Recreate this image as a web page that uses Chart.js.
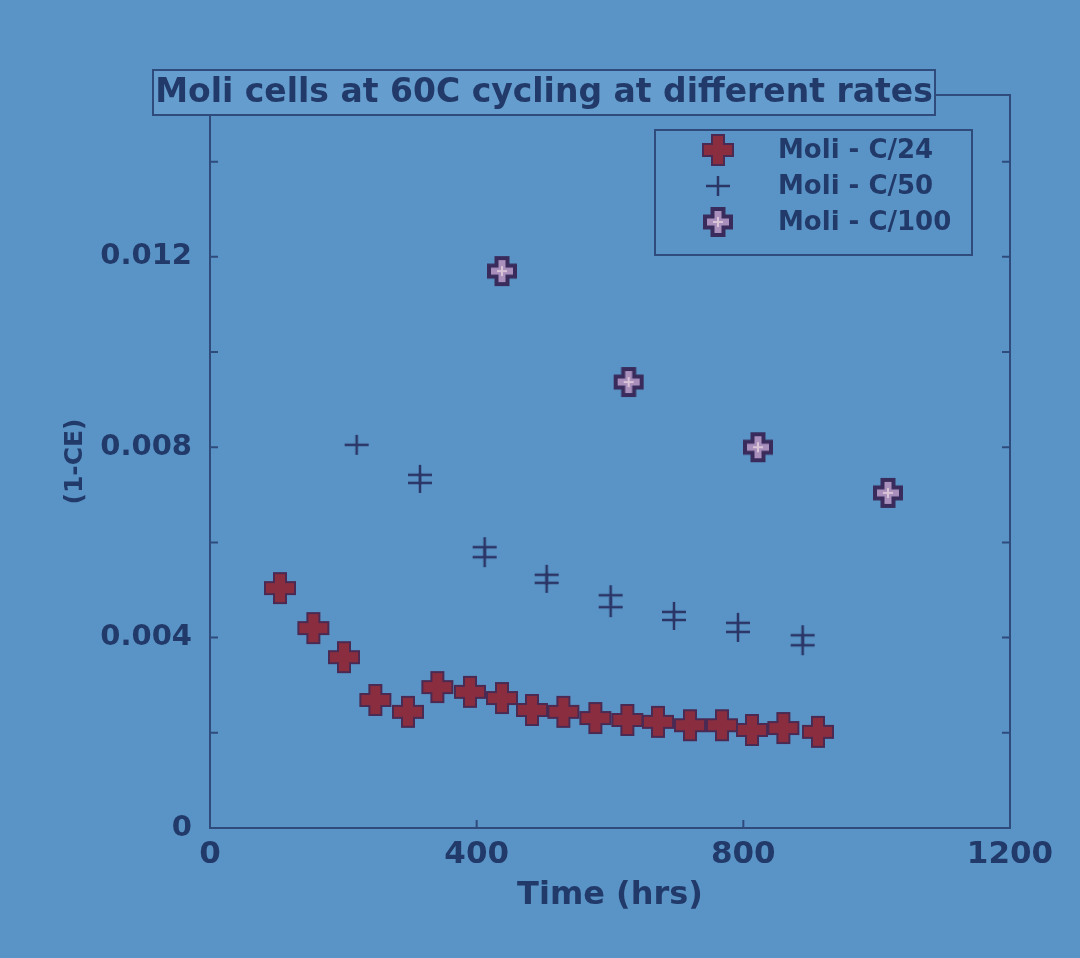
<!DOCTYPE html>
<html lang="en">
<head>
    <meta charset="UTF-8">
    <title>Moli cells at 60C cycling at different rates</title>
    <script src="https://cdn.jsdelivr.net/npm/chart.js"></script>
    <style>
        body {
            margin: 0;
            background-color: #5a94c7;
        }
        canvas {
            display: block;
        }
    </style>
</head>
<body>
    <canvas id="ceChart" width="1080" height="958"></canvas>

    <script>
        // Series
        const c24Time = [105, 155, 201, 248, 297, 341, 390, 438, 483, 530, 578, 626, 672, 720, 768, 813, 860, 912];
        const c24Value = [0.00504, 0.00420, 0.00359, 0.00269, 0.00244, 0.00296, 0.00286, 0.00273, 0.00248,
                          0.00244, 0.00231, 0.00227, 0.00223, 0.00216, 0.00216, 0.00206, 0.00210, 0.00202];

        // C/50 has two cells, so most times appear twice
        const c50Time = [220, 315, 315, 412, 412, 505, 505, 601, 601, 696, 696, 792, 792, 889, 889];
        const c50Value = [0.00805, 0.00742, 0.00725, 0.00590, 0.00569, 0.00532, 0.00515, 0.00489,
                          0.00464, 0.00454, 0.00437, 0.00431, 0.00412, 0.00405, 0.00384];

        const c100Time = [438, 628, 822, 1017];
        const c100Value = [0.01170, 0.00937, 0.00800, 0.00704];

        const seriesNames = ["Moli - C/24", "Moli - C/50", "Moli - C/100"];
        const xTicks = [0, 400, 800, 1200];
        const xTickLabels = ["0", "400", "800", "1200"];
        const yTicks = [0, 0.004, 0.008, 0.012];
        const yTickLabels = ["0", "0.004", "0.008", "0.012"];

        const ink = "#223a69";
        const frameColor = "#2e4b7c";
        const fontFamily = "'DejaVu Sans', sans-serif";

        function toPoints(xs, ys) {
            return xs.map((x, i) => ({ x: x, y: ys[i] }));
        }

        function plusPath(ctx, cx, cy, size, arm) {
            const h = size / 2, a = arm / 2;
            ctx.beginPath();
            ctx.moveTo(cx - a, cy - h);
            ctx.lineTo(cx + a, cy - h);
            ctx.lineTo(cx + a, cy - a);
            ctx.lineTo(cx + h, cy - a);
            ctx.lineTo(cx + h, cy + a);
            ctx.lineTo(cx + a, cy + a);
            ctx.lineTo(cx + a, cy + h);
            ctx.lineTo(cx - a, cy + h);
            ctx.lineTo(cx - a, cy + a);
            ctx.lineTo(cx - h, cy + a);
            ctx.lineTo(cx - h, cy - a);
            ctx.lineTo(cx - a, cy - a);
            ctx.closePath();
        }

        // marker images used as pointStyle
        function makeMarker(kind) {
            const c = document.createElement("canvas");
            c.width = 36;
            c.height = 36;
            const g = c.getContext("2d");
            if (kind === "thick") {
                plusPath(g, 18, 18, 30, 12);
                g.fillStyle = "#8a2d3f";
                g.fill();
                g.lineWidth = 2;
                g.strokeStyle = "#4a2a52";
                g.stroke();
            } else if (kind === "thin") {
                g.beginPath();
                g.moveTo(6, 18); g.lineTo(30, 18);
                g.moveTo(18, 8); g.lineTo(18, 28);
                g.lineWidth = 2.5;
                g.strokeStyle = "#2b3566";
                g.stroke();
            } else {
                plusPath(g, 18, 18, 26, 11);
                g.fillStyle = "#a98fbc";
                g.fill();
                g.lineWidth = 4;
                g.strokeStyle = "#392c5c";
                g.stroke();
                g.beginPath();
                g.moveTo(13, 18); g.lineTo(23, 18);
                g.moveTo(18, 13); g.lineTo(18, 23);
                g.lineWidth = 2;
                g.strokeStyle = "#d9c3d6";
                g.stroke();
            }
            return c;
        }

        const markers = [makeMarker("thick"), makeMarker("thin"), makeMarker("hollow")];

        // frame box with inward ticks, title box and legend box
        const slideDecor = {
            id: "slideDecor",
            beforeDatasetsDraw(chart) {
                const { ctx, chartArea: a, scales } = chart;
                ctx.save();
                ctx.strokeStyle = frameColor;
                ctx.lineWidth = 2;
                ctx.strokeRect(a.left, a.top, a.right - a.left, a.bottom - a.top);
                ctx.beginPath();
                for (let i = 0; i < yTicks.length; i++) {
                    const vals = [yTicks[i], yTicks[i] + 0.002];
                    vals.forEach(v => {
                        if (v > scales.y.max) return;
                        const py = scales.y.getPixelForValue(v);
                        ctx.moveTo(a.left, py); ctx.lineTo(a.left + 8, py);
                        ctx.moveTo(a.right, py); ctx.lineTo(a.right - 8, py);
                    });
                }
                xTicks.forEach(v => {
                    const px = scales.x.getPixelForValue(v);
                    ctx.moveTo(px, a.bottom); ctx.lineTo(px, a.bottom - 8);
                    ctx.moveTo(px, a.top); ctx.lineTo(px, a.top + 8);
                });
                ctx.stroke();
                ctx.restore();
            },
            afterDraw(chart) {
                const ctx = chart.ctx;
                ctx.save();
                // title box
                ctx.fillStyle = "#649dce";
                ctx.fillRect(153, 70, 782, 45);
                ctx.strokeStyle = frameColor;
                ctx.lineWidth = 2;
                ctx.strokeRect(153, 70, 782, 45);
                ctx.fillStyle = ink;
                ctx.font = "bold 33px " + fontFamily;
                ctx.textAlign = "center";
                ctx.textBaseline = "middle";
                ctx.fillText(chart.options.plugins.title.text, 544, 93);

                // legend box
                ctx.strokeRect(655, 130, 317, 125);
                ctx.font = "bold 26px " + fontFamily;
                ctx.textAlign = "left";
                chart.data.datasets.forEach((ds, i) => {
                    const cy = 150 + i * 36;
                    const img = markers[i];
                    ctx.drawImage(img, 718 - img.width / 2, cy - img.height / 2);
                    ctx.fillText(ds.label, 778, cy + 1);
                });
                ctx.restore();
            }
        };

        new Chart(document.getElementById("ceChart").getContext("2d"), {
            type: "scatter",
            data: {
                datasets: [
                    { label: seriesNames[0], data: toPoints(c24Time, c24Value), pointStyle: markers[0] },
                    { label: seriesNames[1], data: toPoints(c50Time, c50Value), pointStyle: markers[1] },
                    { label: seriesNames[2], data: toPoints(c100Time, c100Value), pointStyle: markers[2] }
                ]
            },
            options: {
                responsive: false,
                animation: false,
                layout: { padding: { left: 0, right: 70, top: 95, bottom: 0 } },
                plugins: {
                    legend: { display: false },
                    tooltip: { enabled: false },
                    title: { display: false, text: "Moli cells at 60C cycling at different rates" }
                },
                scales: {
                    x: {
                        type: "linear",
                        min: 0,
                        max: 1200,
                        afterBuildTicks: s => { s.ticks = xTicks.map(v => ({ value: v })); },
                        afterFit: s => { s.height = 130; },
                        grid: { display: false, drawTicks: false },
                        border: { display: false },
                        ticks: {
                            color: ink,
                            padding: 8,
                            maxRotation: 0,
                            autoSkip: false,
                            font: { family: fontFamily, size: 31, weight: "bold" },
                            callback: v => xTickLabels[xTicks.indexOf(v)]
                        },
                        title: {
                            display: true,
                            text: "Time (hrs)",
                            color: ink,
                            font: { family: fontFamily, size: 32, weight: "bold" },
                            padding: { top: 0, bottom: 43 }
                        }
                    },
                    y: {
                        min: 0,
                        max: 0.0154,
                        afterBuildTicks: s => { s.ticks = yTicks.map(v => ({ value: v })); },
                        afterFit: s => { s.width = 210; },
                        grid: { display: false, drawTicks: false },
                        border: { display: false },
                        ticks: {
                            color: ink,
                            padding: 18,
                            font: { family: fontFamily, size: 29, weight: "bold" },
                            callback: v => yTickLabels[yTicks.indexOf(v)]
                        },
                        title: {
                            display: true,
                            text: "(1-CE)",
                            color: ink,
                            font: { family: fontFamily, size: 25, weight: "bold" },
                            padding: { top: 60, bottom: 0 }
                        }
                    }
                }
            },
            plugins: [slideDecor]
        });
    </script>
</body>
</html>
